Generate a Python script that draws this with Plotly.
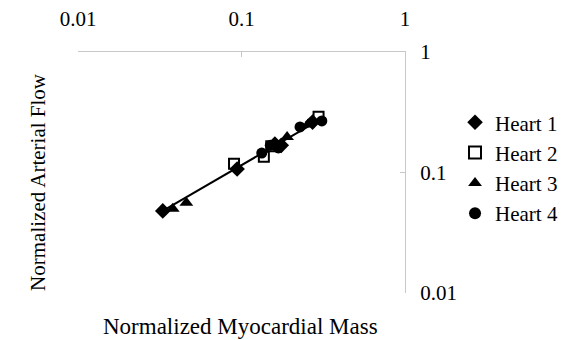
import plotly.graph_objects as go

# Data
h1_mass = [0.033, 0.094, 0.160, 0.175, 0.272]
h1_flow = [0.048, 0.107, 0.172, 0.168, 0.262]
h2_mass = [0.090, 0.137, 0.152, 0.296]
h2_flow = [0.118, 0.135, 0.165, 0.290]
h3_mass = [0.038, 0.046, 0.190, 0.255]
h3_flow = [0.050, 0.056, 0.197, 0.250]
h4_mass = [0.133, 0.150, 0.168, 0.228, 0.310]
h4_flow = [0.145, 0.168, 0.160, 0.239, 0.268]
trend_mass = [0.032, 0.31]
trend_flow = [0.047, 0.28]

x_ticks = [0.01, 0.1, 1]
x_ticktext = ["0.01", "0.1", "1"]
y_ticks = [0.01, 0.1, 1]
y_ticktext = ["0.01", "0.1", "1"]

FONT = "Times New Roman, Liberation Serif, serif"

fig = go.Figure()
fig.add_trace(go.Scatter(x=trend_mass, y=trend_flow, mode="lines",
                         line=dict(color="black", width=2), showlegend=False))
fig.add_trace(go.Scatter(x=h1_mass, y=h1_flow, mode="markers", name="Heart 1",
                         marker=dict(symbol="diamond", size=12, color="black")))
fig.add_trace(go.Scatter(x=h2_mass, y=h2_flow, mode="markers", name="Heart 2",
                         marker=dict(symbol="square-open", size=10, color="black",
                                     line=dict(width=2, color="black"))))
fig.add_trace(go.Scatter(x=h3_mass, y=h3_flow, mode="markers", name="Heart 3",
                         marker=dict(symbol="triangle-up", size=12, color="black")))
fig.add_trace(go.Scatter(x=h4_mass, y=h4_flow, mode="markers", name="Heart 4",
                         marker=dict(symbol="circle", size=11, color="black")))

fig.update_layout(
    width=574, height=340,
    margin=dict(l=78, r=169, t=52, b=47, autoexpand=False),
    paper_bgcolor="white", plot_bgcolor="white",
    font=dict(family=FONT, size=21, color="black"),
    xaxis=dict(type="log", range=[-2, 0], side="top", showline=True,
               linecolor="#c8c8c8", linewidth=1, ticks="inside", ticklen=5,
               tickcolor="#c8c8c8", tickvals=x_ticks, ticktext=x_ticktext,
               showgrid=False, zeroline=False, ticklabelstandoff=17,
               tickfont=dict(size=21, family=FONT, color="black")),
    yaxis=dict(type="log", range=[-2, 0], side="right", showline=True,
               linecolor="#c8c8c8", linewidth=1, ticks="inside", ticklen=5,
               tickcolor="#c8c8c8", tickvals=y_ticks, ticktext=y_ticktext,
               showgrid=False, zeroline=False, ticklabelstandoff=10,
               tickfont=dict(size=21, family=FONT, color="black")),
    legend=dict(x=1.153, xanchor="left", y=0.518, yanchor="middle",
                font=dict(size=21, family=FONT, color="black"), itemwidth=30,
                itemsizing="constant",
                bgcolor="rgba(0,0,0,0)", tracegroupgap=0),
    annotations=[
        dict(text="Normalized Myocardial Mass", xref="paper", yref="paper",
             x=0.497, y=-0.14, xanchor="center", yanchor="middle",
             showarrow=False, font=dict(size=23, family=FONT, color="black")),
        dict(text="Normalized Arterial Flow", xref="paper", yref="paper",
             x=-0.123, y=0.46, xanchor="center", yanchor="middle", textangle=-90,
             showarrow=False, font=dict(size=21, family=FONT, color="black")),
    ],
)

fig.write_html("out.html")
